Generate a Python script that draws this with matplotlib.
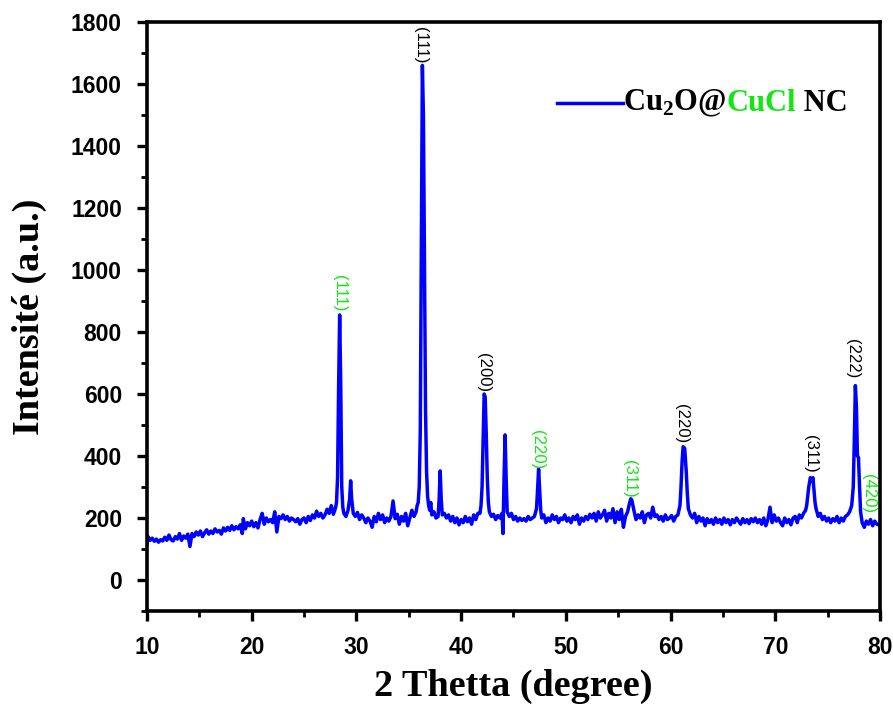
import numpy as np
import matplotlib
matplotlib.use("Agg")
import matplotlib.pyplot as plt
from matplotlib.ticker import MultipleLocator
from matplotlib.offsetbox import TextArea, HPacker, DrawingArea, AnchoredOffsetbox
from matplotlib.lines import Line2D

plt.rcParams.update({
    "font.family": "Liberation Sans",
    "mathtext.fontset": "custom",
    "mathtext.rm": "Liberation Serif:bold",
    "mathtext.bf": "Liberation Serif:bold",
})

# --- XRD pattern (2theta, intensity) ---
pattern_10_28 = [
    (10.0, 118), (10.1, 140), (10.3, 128), (10.5, 135), (10.7, 125), (10.9, 132),
    (11.1, 122), (11.3, 130), (11.5, 126), (11.7, 138), (11.9, 128), (12.1, 145),
    (12.3, 130), (12.5, 126), (12.7, 140), (12.9, 132), (13.1, 150), (13.3, 128),
    (13.5, 142), (13.7, 135), (13.9, 148), (14.1, 108), (14.3, 150), (14.5, 140),
    (14.7, 155), (14.9, 145), (15.1, 158), (15.3, 140), (15.5, 152), (15.7, 162),
    (15.9, 148), (16.1, 158), (16.3, 150), (16.5, 165), (16.7, 155), (16.9, 160),
    (17.1, 148), (17.3, 168), (17.5, 158), (17.7, 170), (17.9, 160), (18.1, 175),
    (18.3, 162), (18.5, 172), (18.7, 165), (18.9, 178), (19.1, 150), (19.2, 198),
    (19.4, 165), (19.6, 185), (19.8, 175), (20.0, 190), (20.2, 172), (20.4, 185),
    (20.6, 168), (20.8, 195), (21.0, 215), (21.2, 180), (21.4, 200), (21.6, 188),
    (21.8, 195), (22.0, 185), (22.2, 220), (22.4, 155), (22.6, 205), (22.8, 198),
    (23.0, 210), (23.2, 195), (23.4, 205), (23.6, 190), (23.8, 200), (24.0, 195),
    (24.2, 188), (24.4, 198), (24.6, 180), (24.8, 195), (25.0, 200), (25.2, 185),
    (25.4, 205), (25.6, 192), (25.8, 210), (26.0, 200), (26.2, 222), (26.4, 205),
    (26.6, 215), (26.8, 200), (27.0, 210), (27.2, 228), (27.4, 215), (27.6, 240),
    (27.8, 212),
]
pattern_28_45 = [
    (28.0, 232), (28.1, 250), (28.2, 330), (28.3, 620), (28.4, 855), (28.5, 640),
    (28.6, 300), (28.7, 235), (28.8, 215), (29.0, 205), (29.2, 225), (29.35, 260),
    (29.45, 320), (29.55, 260), (29.7, 215), (29.9, 205), (30.1, 218), (30.3, 195),
    (30.5, 210), (30.7, 200), (30.9, 185), (31.1, 200), (31.3, 190), (31.5, 170),
    (31.7, 205), (31.9, 188), (32.1, 215), (32.3, 195), (32.5, 210), (32.7, 185),
    (32.9, 200), (33.1, 190), (33.3, 205), (33.5, 255), (33.7, 198), (33.9, 212),
    (34.1, 180), (34.3, 205), (34.5, 190), (34.7, 215), (34.9, 175), (35.1, 200),
    (35.3, 225), (35.5, 205), (35.7, 220), (35.8, 240), (35.9, 250), (36.0, 300),
    (36.1, 480), (36.2, 1050), (36.3, 1660), (36.4, 1500), (36.5, 1000), (36.6, 550),
    (36.7, 350), (36.8, 270), (36.9, 240), (37.0, 225), (37.1, 250), (37.2, 210),
    (37.4, 220), (37.6, 200), (37.8, 205), (37.9, 260), (38.0, 352), (38.1, 260),
    (38.2, 210), (38.4, 215), (38.6, 200), (38.8, 210), (39.0, 190), (39.2, 205),
    (39.4, 185), (39.6, 200), (39.8, 178), (40.0, 195), (40.2, 185), (40.4, 205),
    (40.6, 188), (40.8, 200), (41.0, 180), (41.2, 210), (41.4, 195), (41.6, 215),
    (41.8, 215), (41.9, 240), (42.0, 300), (42.1, 450), (42.2, 600), (42.3, 590),
    (42.4, 470), (42.5, 330), (42.6, 250), (42.7, 220), (42.9, 205), (43.1, 212),
    (43.3, 195), (43.5, 208), (43.7, 200), (43.9, 215), (44.0, 150), (44.1, 330),
    (44.2, 468), (44.3, 330), (44.4, 220), (44.6, 205), (44.8, 215),
]
pattern_45_62 = [
    (45.0, 195), (45.2, 205), (45.4, 190), (45.6, 200), (45.8, 192), (46.0, 198),
    (46.2, 190), (46.4, 205), (46.6, 195), (46.8, 200), (47.0, 205), (47.2, 230),
    (47.3, 290), (47.4, 358), (47.5, 290), (47.6, 225), (47.7, 200), (47.9, 210),
    (48.1, 185), (48.3, 200), (48.5, 190), (48.7, 210), (48.9, 195), (49.1, 205),
    (49.3, 185), (49.5, 200), (49.7, 195), (49.9, 210), (50.1, 190), (50.3, 200),
    (50.5, 185), (50.7, 205), (50.9, 195), (51.1, 210), (51.3, 180), (51.5, 200),
    (51.7, 190), (51.9, 205), (52.1, 195), (52.3, 212), (52.5, 200), (52.7, 215),
    (52.9, 190), (53.1, 220), (53.3, 200), (53.5, 210), (53.7, 225), (53.9, 190),
    (54.1, 215), (54.3, 200), (54.5, 230), (54.7, 185), (54.9, 220), (55.1, 195),
    (55.3, 228), (55.5, 170), (55.7, 205), (55.9, 220), (56.1, 250), (56.2, 262),
    (56.3, 258), (56.5, 225), (56.7, 195), (56.9, 210), (57.1, 200), (57.3, 220),
    (57.5, 185), (57.7, 210), (57.9, 215), (58.1, 200), (58.3, 235), (58.5, 205),
    (58.7, 210), (58.9, 195), (59.1, 205), (59.3, 190), (59.5, 210), (59.7, 195),
    (59.9, 200), (60.1, 208), (60.3, 190), (60.5, 205), (60.7, 210), (60.9, 240),
    (61.0, 300), (61.1, 380), (61.2, 430), (61.35, 425), (61.5, 350), (61.6, 280),
    (61.7, 230), (61.9, 210),
]
pattern_62_80 = [
    (62.1, 200), (62.3, 215), (62.5, 185), (62.7, 205), (62.9, 190), (63.1, 200),
    (63.3, 175), (63.5, 198), (63.7, 185), (63.9, 195), (64.1, 180), (64.3, 200),
    (64.5, 185), (64.7, 195), (64.9, 180), (65.1, 200), (65.3, 185), (65.5, 195),
    (65.7, 178), (65.9, 195), (66.1, 185), (66.3, 200), (66.5, 190), (66.7, 180),
    (66.9, 198), (67.1, 185), (67.3, 195), (67.5, 182), (67.7, 198), (67.9, 188),
    (68.1, 200), (68.3, 185), (68.5, 195), (68.7, 180), (68.9, 200), (69.1, 175),
    (69.3, 195), (69.5, 235), (69.7, 185), (69.9, 210), (70.1, 190), (70.3, 200),
    (70.5, 185), (70.7, 175), (70.9, 200), (71.1, 185), (71.3, 195), (71.5, 178),
    (71.7, 200), (71.9, 205), (72.1, 185), (72.3, 210), (72.5, 200), (72.7, 215),
    (72.9, 225), (73.0, 240), (73.1, 270), (73.2, 300), (73.35, 330), (73.5, 320),
    (73.6, 330), (73.7, 290), (73.8, 250), (73.9, 230), (74.1, 205), (74.3, 215),
    (74.5, 195), (74.7, 205), (74.9, 190), (75.1, 200), (75.3, 185), (75.5, 198),
    (75.7, 190), (75.9, 205), (76.1, 185), (76.3, 200), (76.5, 190), (76.7, 205),
    (76.9, 210), (77.1, 220), (77.3, 240), (77.45, 300), (77.55, 450), (77.65, 627),
    (77.75, 560), (77.85, 400), (77.95, 395), (78.05, 300), (78.15, 220), (78.3, 185),
    (78.5, 170), (78.7, 190), (78.9, 180), (79.1, 195), (79.3, 175), (79.5, 190),
    (79.7, 180), (79.9, 178),
]

# --- peak indexation labels ---
hkl_text = ["(111)", "(111)", "(200)", "(220)", "(311)", "(220)", "(311)", "(222)", "(420)"]
hkl_x = [36.1, 28.4, 42.1, 47.25, 56.1, 61.0, 73.35, 77.4, 78.95]
hkl_y = [1726, 925, 668, 422, 326, 506, 406, 714, 280]
hkl_phase = ["Cu2O", "CuCl", "Cu2O", "CuCl", "CuCl", "Cu2O", "Cu2O", "Cu2O", "CuCl"]

BLUE = "#0000ff"
GREEN = "#14e614"
phase_colors = {"Cu2O": "black", "CuCl": GREEN}

data = np.array(pattern_10_28 + pattern_28_45 + pattern_45_62 + pattern_62_80)
two_theta, intensity = data[:, 0], data[:, 1]

fig = plt.figure(figsize=(8.93, 7.09), dpi=100)
ax = fig.add_axes([0.1646, 0.1382, 0.8208, 0.8308])

ax.plot(two_theta, intensity, color=BLUE, lw=2.5, solid_joinstyle="round")

for txt, x, y, ph in zip(hkl_text, hkl_x, hkl_y, hkl_phase):
    ax.text(x, y, txt, rotation=270, ha="center", va="center",
            fontsize=12, color=phase_colors[ph])

ax.set_xlim(10, 80)
ax.set_ylim(-100, 1800)
ax.xaxis.set_major_locator(MultipleLocator(10))
ax.xaxis.set_minor_locator(MultipleLocator(5))
ax.yaxis.set_major_locator(MultipleLocator(200))
ax.yaxis.set_minor_locator(MultipleLocator(100))
ax.tick_params(which="major", direction="out", length=7, width=2.4,
               labelsize=16.5, pad=11)
ax.tick_params(which="minor", direction="out", length=4, width=2.0)
for lab in ax.get_xticklabels() + ax.get_yticklabels():
    lab.set_fontweight("bold")
for sp in ax.spines.values():
    sp.set_linewidth(2.6)

ax.set_xlabel("2 Thetta (degree)", family="Liberation Serif", fontweight="bold",
              fontsize=27.5, labelpad=7)
ax.set_ylabel("Intensité (a.u.)", family="Liberation Serif", fontweight="bold",
              fontsize=27.5, labelpad=17)

# legend with two-colour label
da = DrawingArea(48, 10, 0, 0)
da.add_artist(Line2D([0, 48], [5, 5], color=BLUE, lw=2.5))
tprops = dict(family="Liberation Serif", fontweight="bold", fontsize=22)
parts = [
    da,
    TextArea(r"Cu$_\mathrm{2}$O@", textprops=dict(color="black", **tprops)),
    TextArea("CuCl", textprops=dict(color=GREEN, **tprops)),
    TextArea(" NC", textprops=dict(color="black", **tprops)),
]
box = HPacker(children=parts, align="center", pad=0, sep=0)
anch = AnchoredOffsetbox(loc="center left", child=box, frameon=False,
                         bbox_to_anchor=(0.559, 0.862), bbox_transform=ax.transAxes,
                         borderpad=0, pad=0)
ax.add_artist(anch)

fig.savefig("out.png", dpi=100)
